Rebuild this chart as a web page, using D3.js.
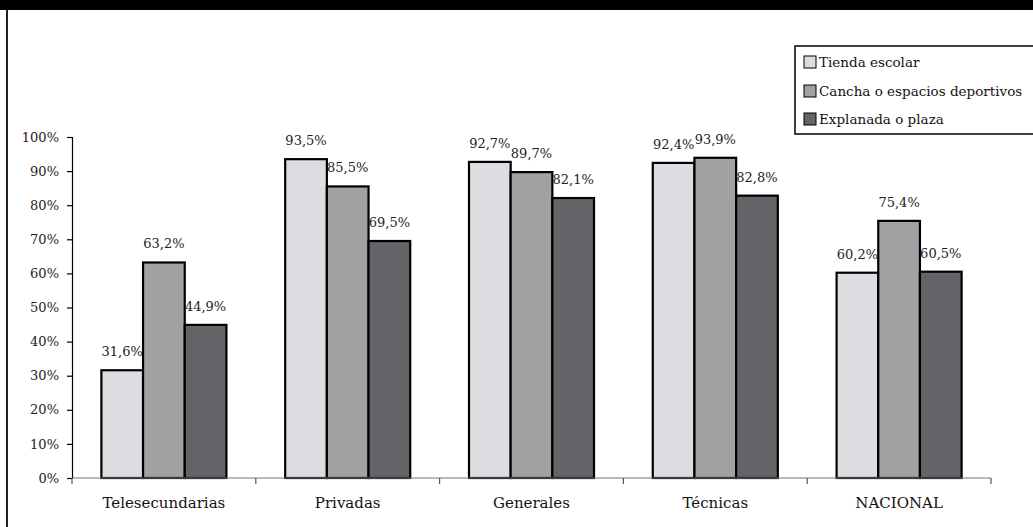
<!DOCTYPE html>
<html>
<head>
<meta charset="utf-8">
<script src="https://cdn.jsdelivr.net/npm/d3@7"></script>
<style>
  html, body { margin: 0; padding: 0; background: #fff; }
  svg { display: block; }
  svg text { font-family: "DejaVu Serif", "Liberation Serif", serif; }
</style>
</head>
<body>
<svg id="chart" width="1033" height="527"></svg>
<script>
// Categories, series and values
const categories = ["Telesecundarias", "Privadas", "Generales", "Técnicas", "NACIONAL"];
const seriesNames = ["Tienda escolar", "Cancha o espacios deportivos", "Explanada o plaza"];
const tienda = [31.6, 93.5, 92.7, 92.4, 60.2];
const cancha = [63.2, 85.5, 89.7, 93.9, 75.4];
const explanada = [44.9, 69.5, 82.1, 82.8, 60.5];
const seriesColors = ["#dcdde0", "#a0a1a3", "#636467"];
const yTicks = [0, 10, 20, 30, 40, 50, 60, 70, 80, 90, 100];

const FONT = "DejaVu Serif, Liberation Serif, serif";

const seriesValues = [tienda, cancha, explanada];
const rows = [];
categories.forEach((c, i) => {
  seriesNames.forEach((s, j) => rows.push({ cat: c, series: s, value: seriesValues[j][i], color: seriesColors[j] }));
});

const svg = d3.select("#chart");
const W = 1033, H = 527;

// page frame: black band on top, rule on the left
svg.append("rect").attr("x", 0).attr("y", 0).attr("width", W).attr("height", 10).attr("fill", "#000");
svg.append("rect").attr("x", 6).attr("y", 10).attr("width", 2).attr("height", H - 10).attr("fill", "#222");

const plot = { left: 72, right: 991, top: 137, bottom: 478 };

const x0 = d3.scaleBand().domain(categories).range([plot.left, plot.right]).paddingInner(0).paddingOuter(0);
const x1 = d3.scaleBand().domain(seriesNames).range([0, x0.bandwidth()]).paddingInner(0).paddingOuter(0.705);
const y = d3.scaleLinear().domain([0, 100]).range([plot.bottom, plot.top]);

const fmt = v => d3.format(".1f")(v).replace(".", ",") + "%";

// y axis
const yAxis = svg.append("g").attr("transform", `translate(${plot.left},0)`)
  .call(d3.axisLeft(y).tickValues(yTicks).tickSize(5).tickPadding(8).tickFormat(d => d + "%"))
  .attr("font-family", FONT);
yAxis.select(".domain").attr("stroke", "#000").attr("stroke-width", 1.2);
yAxis.selectAll(".tick line").attr("stroke", "#000").attr("stroke-width", 1.2);
yAxis.selectAll(".tick text").attr("font-size", 13).attr("fill", "#222");

// bars
svg.append("g").selectAll("rect").data(rows).join("rect")
  .attr("x", d => x0(d.cat) + x1(d.series))
  .attr("y", d => y(d.value))
  .attr("width", x1.bandwidth())
  .attr("height", d => y(0) - y(d.value))
  .attr("fill", d => d.color)
  .attr("stroke", "#000")
  .attr("stroke-width", 2.2);

// x axis with ticks at category boundaries
const xg = svg.append("g").attr("font-family", FONT);
xg.append("line").attr("x1", plot.left).attr("x2", plot.right).attr("y1", plot.bottom).attr("y2", plot.bottom)
  .attr("stroke", "#777").attr("stroke-width", 1.2);
const bounds = categories.map(c => x0(c)).concat([x0(categories[categories.length - 1]) + x0.bandwidth()]);
xg.selectAll("line.tk").data(bounds).join("line").attr("class", "tk")
  .attr("x1", d => d).attr("x2", d => d).attr("y1", plot.bottom).attr("y2", plot.bottom + 6)
  .attr("stroke", "#555").attr("stroke-width", 1.2);
xg.selectAll("text").data(categories).join("text")
  .attr("x", d => x0(d) + x0.bandwidth() / 2)
  .attr("y", 508)
  .attr("text-anchor", "middle")
  .attr("font-size", 15)
  .attr("fill", "#111")
  .text(d => d);

// value labels
svg.append("g").attr("font-family", FONT).selectAll("text").data(rows).join("text")
  .attr("x", d => x0(d.cat) + x1(d.series) + x1.bandwidth() / 2)
  .attr("y", d => y(d.value) - 14)
  .attr("text-anchor", "middle")
  .attr("font-size", 13)
  .attr("fill", "#222")
  .text(d => fmt(d.value));

// legend
const lg = svg.append("g").attr("font-family", FONT);
lg.append("rect").attr("x", 795).attr("y", 46).attr("width", 260).attr("height", 88)
  .attr("fill", "#fff").attr("stroke", "#000").attr("stroke-width", 1.5);
const rowY = [62, 91, 119];
seriesNames.forEach((s, j) => {
  lg.append("rect").attr("x", 804).attr("y", rowY[j] - 6).attr("width", 12).attr("height", 12)
    .attr("fill", seriesColors[j]).attr("stroke", "#000").attr("stroke-width", 1);
  lg.append("text").attr("x", 819).attr("y", rowY[j] + 5).attr("font-size", 13.5).attr("fill", "#111").text(s);
});
</script>
</body>
</html>
